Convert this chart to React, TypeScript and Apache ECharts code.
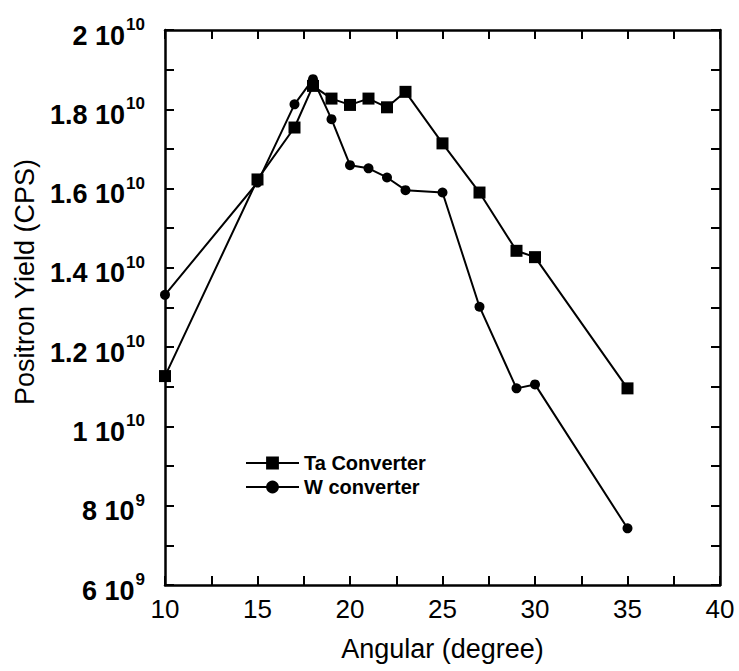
import React, { useEffect, useRef } from "react";
import * as echarts from "echarts";

const angles = [10, 15, 17, 18, 19, 20, 21, 22, 23, 25, 27, 29, 30, 35];
const taYield = [1.127e10, 1.623e10, 1.754e10, 1.859e10, 1.827e10, 1.811e10, 1.827e10, 1.805e10, 1.844e10, 1.714e10, 1.59e10, 1.443e10, 1.427e10, 1.096e10];
const wYield = [1.332e10, 1.615e10, 1.8125e10, 1.876e10, 1.775e10, 1.659e10, 1.651e10, 1.628e10, 1.596e10, 1.59e10, 1.302e10, 1.096e10, 1.106e10, 7.43e9];
const seriesNames = ["Ta Converter", "W converter"];
const xTitle = "Angular (degree)";
const yTitle = "Positron Yield (CPS)";

const FONT = "'Liberation Sans', Arial, Helvetica, sans-serif";

function yLabel(v: number): string {
  const billions = Math.round(v / 1e9);
  if (billions % 2 !== 0) return "";
  let exp = 9;
  let m = v / 1e9;
  if (v >= 1e10) {
    exp = 10;
    m = v / 1e10;
  }
  const ms = String(Math.round(m * 10) / 10);
  return `{b|${ms} 10}{s|${exp}}`;
}

export default function App() {
  const ref = useRef<HTMLDivElement>(null);
  useEffect(() => {
    if (!ref.current) return;
    const chart = echarts.init(ref.current, undefined, { renderer: "svg" });
    const tickCommon = { show: true, inside: true, length: 9, lineStyle: { color: "#000", width: 2 } };
    const lineCommon = { show: true, onZero: false, lineStyle: { color: "#000", width: 2.5 } };
    chart.setOption({
      animation: false,
      backgroundColor: "#fff",
      textStyle: { fontFamily: FONT },
      grid: { left: 165, right: 19, top: 30, bottom: 86, containLabel: false },
      legend: {
        left: 240,
        top: 447,
        orient: "vertical",
        itemWidth: 53,
        itemHeight: 16,
        itemGap: 2,
        data: seriesNames,
        textStyle: { fontFamily: FONT, fontSize: 20, fontWeight: "bold", color: "#000", lineHeight: 22 },
      },
      xAxis: [
        {
          type: "value",
          min: 10,
          max: 40,
          interval: 2.5,
          axisLine: lineCommon,
          axisTick: tickCommon,
          splitLine: { show: false },
          axisLabel: {
            margin: 11,
            fontSize: 26,
            color: "#000",
            fontFamily: FONT,
            formatter: (v: number) => (v % 5 === 0 ? String(v) : ""),
          },
          name: xTitle,
          nameLocation: "middle",
          nameGap: 50,
          nameTextStyle: { fontSize: 27, color: "#000", fontFamily: FONT },
        },
        {
          type: "value",
          position: "top",
          min: 10,
          max: 40,
          interval: 2.5,
          axisLine: lineCommon,
          axisTick: tickCommon,
          axisLabel: { show: false },
          splitLine: { show: false },
        },
      ],
      yAxis: [
        {
          type: "value",
          min: 6e9,
          max: 2e10,
          interval: 1e9,
          axisLine: lineCommon,
          axisTick: tickCommon,
          splitLine: { show: false },
          axisLabel: {
            margin: 20,
            color: "#000",
            formatter: yLabel,
            rich: {
              b: { fontSize: 27, fontWeight: "bold", fontFamily: FONT, color: "#000", lineHeight: 28, verticalAlign: "top", padding: [6, 0, 12, 0] },
              s: { fontSize: 17, fontWeight: "bold", fontFamily: FONT, color: "#000", lineHeight: 17, verticalAlign: "top", padding: [0, 0, 0, 1] },
            },
          },
        },
        {
          type: "value",
          position: "right",
          min: 6e9,
          max: 2e10,
          interval: 1e9,
          axisLine: lineCommon,
          axisTick: tickCommon,
          axisLabel: { show: false },
          splitLine: { show: false },
        },
      ],
      graphic: [
        {
          type: "text",
          x: 25,
          y: 282,
          rotation: Math.PI / 2,
          style: {
            text: yTitle,
            fontSize: 27,
            fontFamily: FONT,
            fill: "#000",
            textAlign: "center",
            textVerticalAlign: "middle",
          },
        },
      ],
      series: [
        {
          name: seriesNames[0],
          type: "line",
          data: angles.map((a, i) => [a, taYield[i]]),
          symbol: "rect",
          symbolSize: 12,
          itemStyle: { color: "#000" },
          lineStyle: { color: "#000", width: 2 },
        },
        {
          name: seriesNames[1],
          type: "line",
          data: angles.map((a, i) => [a, wYield[i]]),
          symbol: "circle",
          symbolSize: 10,
          itemStyle: { color: "#000" },
          lineStyle: { color: "#000", width: 2 },
        },
      ],
    });
    return () => chart.dispose();
  }, []);
  return <div ref={ref} style={{ width: 739, height: 671, position: "absolute", left: 0, top: 0 }} />;
}
